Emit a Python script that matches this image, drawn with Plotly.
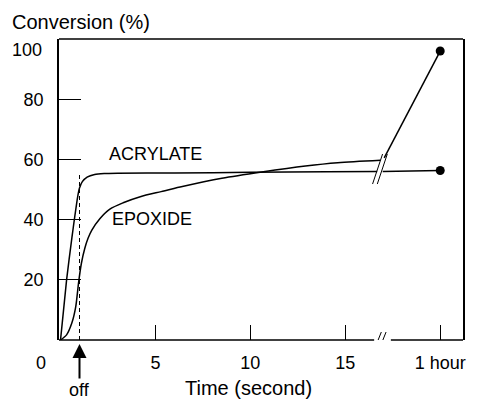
import plotly.graph_objects as go

# Conversion (%) versus irradiation time for the two monomers of the hybrid system.
# Seconds scale up to the axis break, then a single reading after 1 hour (plotted at 20).
acrylate_t = [0, 0.32, 0.6, 0.75, 0.9, 1.0, 1.15, 1.4, 1.8, 2.3, 3, 6, 10, 14, 16.68]
acrylate_v = [0, 20, 34, 41, 47.5, 50.5, 52.6, 54.1, 55.0, 55.3, 55.4, 55.5, 55.7, 55.9, 56.0]

epoxide_t = [0, 0.32, 0.6, 0.8, 0.95, 1.1, 1.28, 1.45, 1.65, 2.07, 2.6, 3.3, 4.2, 5.3,
             6.3, 8.5, 10.6, 12.9, 14.6, 16.85]
epoxide_v = [0, 1.7, 5.7, 11, 19, 25.5, 30.5, 33.8, 36.5, 40.3, 43.5, 45.6, 47.6, 49.3,
             50.8, 53.7, 55.8, 57.8, 58.9, 59.7]

# after the break: one hour readings
HOUR_POS = 20
acrylate_hour_t = [16.97, HOUR_POS]
acrylate_hour_v = [56.0, 56.3]
epoxide_hour_t = [17.05, HOUR_POS]
epoxide_hour_v = [60.5, 96]

# light switched off
OFF_T = 1.0
OFF_LINE_TOP = 55

x_tickvals = [5, 10, 15, HOUR_POS]
x_ticktext = ["5", "10", "15", "1 hour"]
y_tickvals = [20, 40, 60, 80]

BREAK_MARKS_T = [16.7, 16.95]
BREAK_LEVEL = 56.8
AXIS_GAP = (16.52, 17.4)

X_RANGE = [-0.08, 21.2]
Y_RANGE = [0, 100]

FONT = "Arial, Liberation Sans, Helvetica, sans-serif"
INK = "black"

fig = go.Figure()

line_style = dict(color=INK, width=1.5)
fig.add_trace(go.Scatter(x=acrylate_t, y=acrylate_v, mode="lines",
                         line=dict(**line_style, shape="spline", smoothing=0.6)))
fig.add_trace(go.Scatter(x=epoxide_t, y=epoxide_v, mode="lines",
                         line=dict(**line_style, shape="spline", smoothing=0.8)))
fig.add_trace(go.Scatter(x=acrylate_hour_t, y=acrylate_hour_v, mode="lines", line=line_style))
fig.add_trace(go.Scatter(x=epoxide_hour_t, y=epoxide_hour_v, mode="lines", line=line_style))
fig.add_trace(go.Scatter(x=[HOUR_POS, HOUR_POS], y=[acrylate_hour_v[-1], epoxide_hour_v[-1]],
                         mode="markers", marker=dict(color=INK, size=9)))
fig.add_trace(go.Scatter(x=[OFF_T, OFF_T], y=[0, OFF_LINE_TOP], mode="lines",
                         line=dict(color=INK, width=1, dash="4px,3px")))

shapes = []
# top frame line and the broken bottom axis
shapes.append(dict(type="line", xref="paper", yref="paper", x0=0, x1=1, y0=1, y1=1,
                   line=dict(color=INK, width=1.5)))
shapes.append(dict(type="line", xref="x", yref="paper", x0=X_RANGE[0], x1=AXIS_GAP[0],
                   y0=0, y1=0, line=dict(color=INK, width=1.5)))
shapes.append(dict(type="line", xref="x", yref="paper", x0=AXIS_GAP[1], x1=X_RANGE[1],
                   y0=0, y1=0, line=dict(color=INK, width=1.5)))
# "//" break marks across the curves and on the axis
for t in BREAK_MARKS_T:
    shapes.append(dict(type="line", xref="x", yref="y",
                       xsizemode="pixel", xanchor=t, x0=-5, x1=5,
                       ysizemode="pixel", yanchor=BREAK_LEVEL, y0=-15, y1=15,
                       line=dict(color=INK, width=1)))
    shapes.append(dict(type="line", xref="x", yref="y",
                       xsizemode="pixel", xanchor=t + 0.04, x0=-3, x1=3,
                       ysizemode="pixel", yanchor=0, y0=-7, y1=8,
                       line=dict(color=INK, width=1)))

txt = dict(family=FONT, size=18, color=INK)
title_font = dict(family=FONT, size=20, color=INK)
annotations = [
    dict(text="Conversion (%)", xref="paper", yref="paper", x=0, y=1,
         xanchor="left", yanchor="middle", xshift=-49, yshift=17,
         showarrow=False, font=title_font),
    dict(text="Time (second)", xref="paper", yref="paper", x=0.47, y=0,
         xanchor="center", yanchor="middle", yshift=-48,
         showarrow=False, font=title_font),
    dict(text="ACRYLATE", x=5.0, y=61.8, xref="x", yref="y", showarrow=False, font=txt),
    dict(text="EPOXIDE", x=4.8, y=40.2, xref="x", yref="y", showarrow=False, font=txt),
    dict(text="0", x=0, y=0, xref="x", yref="y", xshift=-20, yshift=-23,
         showarrow=False, font=txt),
    dict(text="100", xref="paper", yref="y", x=0, y=100, xanchor="right",
         xshift=-15, yshift=-11, showarrow=False, font=txt),
    dict(text="off", x=OFF_T, y=0, xref="x", yref="y", ax=0, ay=50,
         showarrow=True, arrowhead=2, arrowsize=1.4, arrowwidth=2,
         arrowcolor=INK, standoff=4, font=txt),
]

fig.update_layout(
    width=478, height=399,
    margin=dict(l=59, r=13, t=39, b=59),
    paper_bgcolor="white", plot_bgcolor="white",
    showlegend=False,
    font=dict(family=FONT, size=18, color=INK),
    shapes=shapes,
    annotations=annotations,
    xaxis=dict(range=X_RANGE, showgrid=False, zeroline=False, showline=False,
               tickmode="array", tickvals=x_tickvals, ticktext=x_ticktext,
               ticks="inside", ticklen=15, tickwidth=1.2, tickcolor=INK,
               ticklabelstandoff=10, tickfont=txt),
    yaxis=dict(range=Y_RANGE, showgrid=False, zeroline=False,
               showline=True, mirror=True, linecolor=INK, linewidth=1.5,
               tickmode="array", tickvals=y_tickvals,
               ticks="inside", ticklen=22, tickwidth=1.2, tickcolor=INK,
               ticklabelstandoff=10, tickfont=txt),
)

fig.write_html("out.html")
